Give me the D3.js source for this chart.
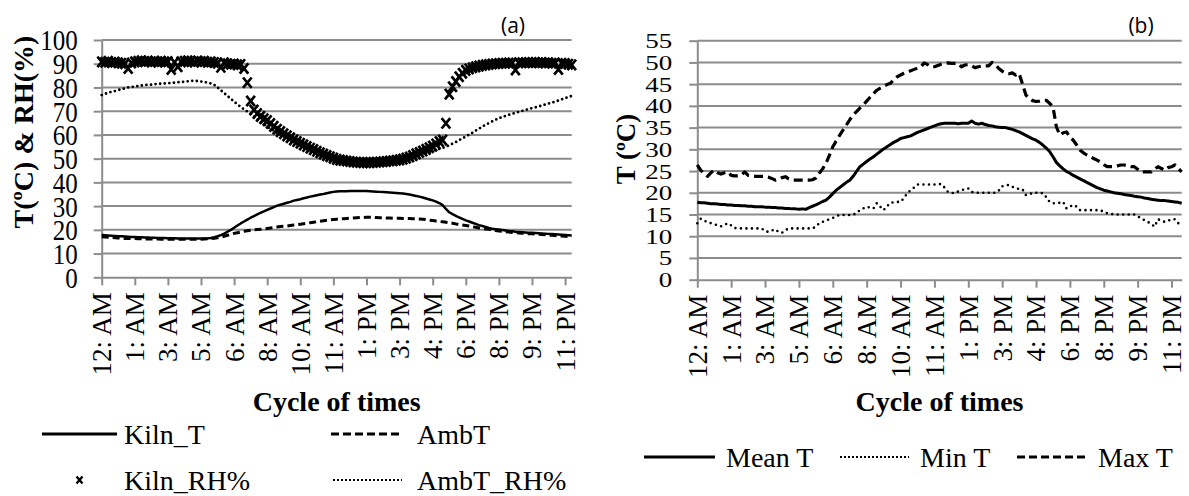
<!DOCTYPE html>
<html>
<head>
<meta charset="utf-8">
<script src="https://cdn.jsdelivr.net/npm/d3@7"></script>
<style>
  body { margin: 0; background: #fff; }
  svg { display: block; }
  text { font-family: "Liberation Serif", "Times New Roman", serif; fill: #000; }
</style>
</head>
<body>
<div id="chart"></div>
<script>
// x tick labels (every 10th reading, 10 minute log)
const timeLabels = ["12: AM", "1: AM", "3: AM", "5: AM", "6: AM", "8: AM", "10: AM", "11: AM",
  "1: PM", "3: PM", "4: PM", "6: PM", "8: PM", "9: PM", "11: PM"]
const tickIdx = [0, 10, 20, 30, 40, 50, 60, 70, 80, 90, 100, 110, 120, 130, 140]

// (a) kiln vs ambient
const kilnT = [
  17.8,17.7,17.6,17.5,17.4,17.3,17.3,17.2,17.1,17.0,
  17.0,16.9,16.9,16.8,16.8,16.7,16.7,16.6,16.6,16.6,
  16.5,16.5,16.5,16.4,16.4,16.4,16.3,16.3,16.3,16.3,
  16.3,16.3,16.4,16.6,16.9,17.3,17.8,18.4,19.2,20.0,
  20.9,21.8,22.7,23.5,24.3,25.1,25.8,26.5,27.2,27.8,
  28.4,29.0,29.6,30.2,30.6,31.0,31.4,31.8,32.3,32.6,
  32.9,33.3,33.6,34.0,34.3,34.6,34.9,35.1,35.4,35.7,
  36.0,36.2,36.3,36.3,36.3,36.4,36.4,36.4,36.4,36.4,
  36.4,36.3,36.2,36.1,36.0,35.9,35.8,35.7,35.6,35.5,
  35.4,35.3,35.1,34.9,34.6,34.3,34.0,33.6,33.2,32.8,
  32.4,31.9,31.3,30.4,28.8,27.4,26.6,25.9,25.2,24.6,
  24.0,23.5,23.0,22.5,22.0,21.6,21.2,20.8,20.5,20.3,
  20.1,19.9,19.7,19.5,19.4,19.2,19.1,19.0,18.9,18.8,
  18.8,18.7,18.6,18.5,18.4,18.3,18.2,18.1,18.0,17.9,
  17.8,17.7,17.6]
const ambT = [
  17.1,17.0,16.9,16.8,16.7,16.6,16.5,16.4,16.4,16.3,
  16.3,16.2,16.2,16.2,16.1,16.1,16.1,16.1,16.0,16.0,
  16.0,16.0,16.0,16.0,16.0,16.0,16.0,16.0,16.0,16.0,
  16.0,16.1,16.2,16.3,16.5,16.7,16.9,17.3,17.7,18.1,
  18.5,18.8,19.1,19.4,19.6,19.8,20.0,20.1,20.2,20.4,
  20.6,20.8,21.0,21.2,21.4,21.5,21.6,21.8,22.0,22.2,
  22.4,22.6,22.8,23.0,23.2,23.4,23.6,23.8,24.0,24.2,
  24.4,24.5,24.6,24.7,24.8,24.9,25.0,25.1,25.2,25.2,
  25.3,25.3,25.3,25.2,25.1,25.1,25.0,25.0,24.9,24.9,
  24.9,24.8,24.8,24.8,24.7,24.7,24.6,24.5,24.3,24.1,
  23.9,23.7,23.5,23.4,23.2,23.0,22.8,22.5,22.3,22.0,
  21.8,21.6,21.3,21.1,20.8,20.6,20.4,20.2,19.9,19.7,
  19.5,19.4,19.2,19.1,18.9,18.8,18.7,18.6,18.5,18.4,
  18.3,18.2,18.1,18.0,17.9,17.8,17.7,17.6,17.5,17.4,
  17.3,17.2,17.1]
const kilnRH = [
  90.8,90.6,91.0,90.5,90.7,90.4,90.2,90.0,88.0,90.3,
  90.8,91.0,91.2,90.9,91.1,90.8,91.0,90.7,91.0,90.8,
  90.9,87.6,90.6,88.8,90.8,91.0,91.2,91.0,90.7,91.1,
  90.9,91.0,90.6,90.8,90.5,90.2,88.5,90.4,90.0,89.8,
  89.9,89.5,89.7,88.0,82.0,74.3,70.5,69.0,67.8,66.8,
  66.0,64.8,63.6,62.4,61.4,60.5,59.6,58.8,57.9,57.2,
  56.5,55.8,55.1,54.4,53.8,53.1,52.5,51.9,51.3,50.8,
  50.2,49.7,49.4,49.2,49.0,48.8,48.6,48.5,48.4,48.3,
  48.3,48.3,48.4,48.5,48.6,48.7,48.8,49.0,49.1,49.3,
  49.5,49.8,50.2,50.7,51.3,52.0,52.6,53.2,53.9,54.6,
  55.3,56.2,57.2,57.8,64.9,77.2,80.3,82.5,84.5,86.0,
  87.2,87.8,88.3,88.7,89.0,89.3,89.5,89.7,89.9,90.0,
  90.1,90.2,90.2,90.3,90.3,87.4,90.4,90.4,90.4,90.5,
  90.5,90.5,90.4,90.5,90.3,90.4,90.2,90.3,87.6,90.2,
  90.1,89.8,89.5]
const ambRH = [
  76.8,77.3,77.8,78.2,78.5,78.9,79.3,79.6,80.0,80.2,
  80.4,80.6,80.8,81.0,81.1,81.2,81.4,81.5,81.6,81.7,
  81.8,81.9,82.0,82.2,82.3,82.4,82.6,82.8,82.8,82.7,
  82.5,82.3,82.0,81.7,81.1,80.0,78.8,77.6,76.4,75.2,
  74.0,72.9,71.8,70.8,69.8,68.8,67.7,66.6,65.5,64.5,
  63.5,62.6,61.7,60.8,60.0,59.2,58.4,57.7,57.0,56.3,
  55.6,55.0,54.4,53.8,53.2,52.6,52.0,51.5,51.0,50.6,
  50.2,49.9,49.6,49.3,49.1,48.9,48.7,48.6,48.5,48.4,
  48.4,48.4,48.4,48.5,48.6,48.7,48.8,49.0,49.2,49.4,
  49.6,49.9,50.2,50.5,50.9,51.3,51.7,52.1,52.5,52.9,
  53.3,53.7,54.1,54.5,55.0,55.6,56.3,57.0,57.8,58.6,
  59.3,60.1,60.9,61.8,62.6,63.5,64.3,65.0,65.7,66.4,
  67.0,67.5,68.0,68.5,68.9,69.3,69.7,70.1,70.5,70.9,
  71.3,71.6,72.0,72.4,72.8,73.2,73.6,74.0,74.5,75.0,
  75.5,76.0,76.4]

// (b) mean / min / max kiln temperature
const meanT = [
  17.8,17.7,17.7,17.6,17.5,17.5,17.4,17.3,17.3,17.2,
  17.2,17.1,17.1,17.0,17.0,16.9,16.9,16.8,16.8,16.8,
  16.7,16.7,16.6,16.6,16.5,16.5,16.4,16.4,16.3,16.3,
  16.2,16.3,16.2,16.6,16.9,17.2,17.6,18.0,18.3,19.0,
  19.8,20.6,21.2,21.8,22.4,22.9,23.8,24.9,26.0,26.6,
  27.2,27.8,28.3,28.9,29.5,30.1,30.6,31.1,31.6,32.0,
  32.5,32.7,32.9,33.1,33.5,33.9,34.2,34.5,34.8,35.1,
  35.4,35.7,35.9,36.0,36.0,36.0,36.0,35.9,36.0,36.0,
  36.0,36.5,36.0,35.8,36.0,35.7,35.5,35.4,35.2,35.1,
  35.0,35.0,34.8,34.6,34.3,34.0,33.6,33.2,32.8,32.4,
  32.1,31.6,31.0,30.3,29.5,28.3,27.0,26.2,25.5,24.9,
  24.5,24.0,23.6,23.2,22.8,22.4,22.0,21.6,21.2,20.9,
  20.6,20.4,20.2,20.0,19.9,19.8,19.6,19.5,19.4,19.2,
  19.1,19.0,18.8,18.7,18.5,18.4,18.3,18.2,18.2,18.1,
  18.0,17.9,17.8,17.6]
const minT = [
  13.0,14.0,13.5,13.4,13.0,12.8,12.5,12.3,12.6,13.0,
  12.5,11.9,11.8,11.8,11.8,11.8,11.8,11.8,11.8,11.8,
  11.2,11.0,11.3,11.6,11.0,10.8,11.4,11.8,11.8,11.8,
  11.8,11.8,11.8,11.8,11.8,12.2,13.0,13.3,13.6,13.9,
  14.2,14.6,14.9,14.9,14.9,14.9,14.9,15.4,16.0,16.4,
  16.8,16.6,16.4,17.6,16.8,16.0,16.9,17.7,17.8,17.9,
  17.9,18.8,19.9,20.6,21.2,21.9,21.9,21.9,21.9,21.9,
  21.9,22.0,22.0,21.2,20.2,20.0,19.9,20.3,20.6,20.8,
  21.0,20.2,20.0,20.0,20.0,20.0,20.0,20.0,20.0,20.5,
  21.5,21.7,21.8,21.4,21.0,20.9,20.8,19.5,19.6,20.0,
  20.0,20.0,19.9,19.0,17.9,17.6,17.6,17.7,17.9,16.4,
  16.8,17.2,16.8,16.0,16.0,16.0,16.0,16.0,16.0,16.0,
  15.6,15.3,15.2,15.0,15.0,15.0,15.0,15.0,15.0,15.0,
  14.6,14.1,13.7,13.3,12.8,12.2,13.9,13.6,13.3,13.6,
  13.9,13.9,13.0,12.6]
const maxT = [
  26.4,25.2,24.4,23.8,24.6,25.2,24.6,24.3,24.6,24.8,
  24.0,23.9,23.9,24.1,24.8,24.0,23.9,23.8,23.8,23.8,
  23.8,23.6,23.3,22.9,23.1,23.5,23.7,23.2,22.9,22.9,
  22.9,22.9,22.9,22.9,23.0,23.4,24.5,25.5,26.8,28.6,
  30.6,31.9,33.2,34.4,35.6,36.8,37.9,38.7,39.5,40.2,
  41.1,42.0,42.8,43.6,44.1,44.5,44.9,45.2,46.0,46.7,
  47.1,47.5,47.8,48.1,48.4,48.7,49.0,49.9,49.5,49.0,
  49.0,49.3,49.6,49.8,49.9,49.8,49.8,49.8,49.0,49.4,
  49.5,49.2,48.8,49.0,49.2,49.2,49.2,50.0,49.5,48.6,
  48.0,47.5,47.4,47.6,47.1,47.5,45.0,42.5,41.8,41.2,
  41.0,41.1,41.3,41.3,40.6,39.8,35.2,33.3,33.8,34.0,
  32.8,32.1,31.0,29.8,29.2,28.7,28.3,27.9,27.5,27.1,
  26.5,26.0,26.0,26.0,26.2,26.4,26.4,26.2,26.0,26.0,
  25.4,24.8,24.8,24.8,24.8,25.4,26.0,25.6,25.2,25.8,
  26.0,26.4,25.6,24.8]

const ticksA = [0, 10, 20, 30, 40, 50, 60, 70, 80, 90, 100]
const ticksB = [0, 5, 10, 15, 20, 25, 30, 35, 40, 45, 50, 55]

const W = 1189, H = 496
const grey = "#8c8c8c"
const fs = 28

const svg = d3.select("#chart").append("svg")
  .attr("width", W)
  .attr("height", H)

function drawPanel(p) {
  const x = d3.scaleLinear().domain([0, p.n - 1]).range([p.left, p.right])
  const y = d3.scaleLinear().domain([0, p.ymax]).range([p.bottom, p.top])
  const g = svg.append("g")

  // horizontal grid
  g.append("g").selectAll("line")
    .data(p.yticks.slice(1))
    .enter().append("line")
      .attr("x1", p.left).attr("x2", p.right)
      .attr("y1", d => y(d)).attr("y2", d => y(d))
      .attr("stroke", grey).attr("stroke-width", 2)

  // y axis
  const ya = g.append("g")
    .attr("transform", "translate(" + p.left + ",0)")
    .call(d3.axisLeft(y).tickValues(p.yticks).tickSize(8).tickPadding(p.pad).tickSizeOuter(0))
  ya.select(".domain").attr("stroke", grey).attr("stroke-width", 2)
  ya.selectAll(".tick line").attr("stroke", grey).attr("stroke-width", 2)
  ya.selectAll(".tick text")
    .attr("font-size", p.yfs)
    .attr("font-family", "Liberation Serif, serif")
    .attr("dy", "0.33em")
    .attr("transform", "scale(1," + p.ystretch + ")")

  // x axis
  const xa = g.append("g")
    .attr("transform", "translate(0," + p.bottom + ")")
    .call(d3.axisBottom(x).tickValues(tickIdx).tickSize(8).tickSizeOuter(0)
      .tickFormat((d, i) => timeLabels[i]))
  xa.select(".domain").attr("stroke", grey).attr("stroke-width", 2)
  xa.selectAll(".tick line").attr("stroke", grey).attr("stroke-width", 2)
  xa.selectAll(".tick text")
    .attr("font-size", 27)
    .attr("font-family", "Liberation Serif, serif")
    .attr("text-anchor", "end")
    .attr("transform", "rotate(-90)")
    .attr("x", -15)
    .attr("y", 0)
    .attr("dy", "0.33em")

  // titles
  g.append("text")
    .attr("x", (p.left + p.right) / 2)
    .attr("y", 411)
    .attr("text-anchor", "middle")
    .attr("font-size", fs)
    .attr("font-weight", "bold")
    .text("Cycle of times")
  g.append("text")
    .attr("transform", "translate(" + p.ylabX + "," + p.ylabY + ") rotate(-90)")
    .attr("text-anchor", "middle")
    .attr("dy", "0.35em")
    .attr("font-size", p.ylfs)
    .attr("font-weight", "bold")
    .text(p.ylabel)
  g.append("text")
    .attr("x", p.tagX)
    .attr("y", 33)
    .attr("text-anchor", "middle")
    .attr("font-size", 21)
    .style("font-family", "'Open Sans', 'Noto Sans', sans-serif")
    .text(p.tag)

  return {x, y, g}
}

function addLine(c, values, w, dash, cap) {
  const line = d3.line()
    .x((d, i) => c.x(i))
    .y(d => c.y(d))
  c.g.append("path")
    .datum(values)
    .attr("fill", "none")
    .attr("stroke", "#000")
    .attr("stroke-width", w)
    .attr("stroke-dasharray", dash)
    .attr("stroke-linecap", cap || "butt")
    .attr("stroke-linejoin", "round")
    .attr("d", line)
}

function xMark(sx, sy) {
  return "M" + (-sx) + "," + (-sy) + "L" + sx + "," + sy + "M" + (-sx) + "," + sy + "L" + sx + "," + (-sy)
}

// ---- panel (a)
const a = drawPanel({
  n: kilnT.length, left: 101.7, right: 571.7, top: 40, bottom: 277.3, ymax: 100,
  yticks: ticksA, pad: 16, yfs: 25, ystretch: 1.2,
  ylabel: "T(ºC) & RH(%)", ylfs: 28, ylabX: 23, ylabY: 132, tag: "(a)", tagX: 513
})
addLine(a, ambRH, 2.8, "0,4.6", "round")
addLine(a, ambT, 3, "7,4")
addLine(a, kilnT, 2.5, null)
a.g.append("g").selectAll("path")
  .data(kilnRH)
  .enter().append("path")
    .attr("transform", (d, i) => "translate(" + a.x(i) + "," + a.y(d) + ")")
    .attr("d", xMark(4.3, 5.2))
    .attr("stroke", "#000")
    .attr("stroke-width", 2.7)

// ---- panel (b)
const b = drawPanel({
  n: meanT.length, left: 697.3, right: 1181.7, top: 40.7, bottom: 279.7, ymax: 55,
  yticks: ticksB, pad: 17, yfs: 27, ystretch: 0.78,
  ylabel: "T (ºC)", ylfs: 27, ylabX: 626, ylabY: 149, tag: "(b)", tagX: 1141
})
addLine(b, minT, 2.6, "0,5.5", "round")
addLine(b, maxT, 3.2, "9,5")
addLine(b, meanT, 3, null)

// ---- legends
function legendItem(x0, x1, tx, y, label, kind) {
  const g = svg.append("g")
  if (kind === "marker") {
    g.append("path")
      .attr("transform", "translate(" + ((x0 + x1) / 2) + "," + y + ")")
      .attr("d", xMark(3, 3.6))
      .attr("stroke", "#000").attr("stroke-width", 2.4)
  } else {
    g.append("line")
      .attr("x1", x0).attr("x2", x1).attr("y1", y).attr("y2", y)
      .attr("stroke", "#000")
      .attr("stroke-width", kind === "dot" ? 2 : 3)
      .attr("stroke-dasharray", kind === "dash" ? "8,4" : kind === "dot" ? "2,2" : null)
  }
  g.append("text")
    .attr("x", tx)
    .attr("y", y)
    .attr("dy", "0.35em")
    .attr("font-size", fs)
    .text(label)
}
legendItem(42, 117, 124, 434, "Kiln_T", "solid")
legendItem(331, 402, 417, 434, "AmbT", "dash")
legendItem(42, 117, 124, 480, "Kiln_RH%", "marker")
legendItem(333, 402, 417, 480, "AmbT_RH%", "dot")

legendItem(644, 715, 726, 457, "Mean T", "solid")
legendItem(840, 909, 920, 457, "Min T", "dot")
legendItem(1017, 1086, 1098, 457, "Max T", "dash")
</script>
</body>
</html>
